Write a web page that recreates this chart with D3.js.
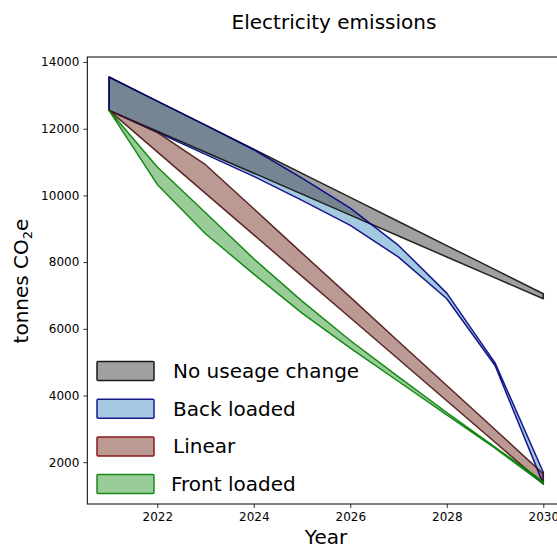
<!DOCTYPE html>
<html>
<head>
<meta charset="utf-8">
<script src="https://cdn.jsdelivr.net/npm/d3@7"></script>
<style>
body { margin: 0; background: #fff; }
svg { display: block; font-family: "DejaVu Sans", sans-serif; }
</style>
</head>
<body>
<div id="chart"></div>
<script>
var years = [2021, 2022, 2023, 2024, 2025, 2026, 2027, 2028, 2029, 2030];

// each scenario is a band between a high and a low line
var noChangeHigh = [13550, 12828, 12106, 11384, 10662, 9940, 9218, 8496, 7774, 7050];
var noChangeLow  = [12550, 11922, 11294, 10666, 10038, 9410, 8782, 8154, 7526, 6900];
var backHigh  = [13550, 12828, 12106, 11370, 10520, 9620, 8500, 7070, 4980, 1700];
var backLow   = [12550, 11890, 11230, 10570, 9850, 9100, 8150, 6900, 4900, 1350];
var linearHigh = [12550, 11890, 10920, 9600, 8270, 6950, 5620, 4300, 2980, 1650];
var linearLow  = [12550, 11306, 10062, 8818, 7574, 6330, 5086, 3842, 2598, 1350];
var frontHigh = [12550, 10850, 9480, 8100, 6830, 5650, 4560, 3490, 2450, 1420];
var frontLow  = [12550, 10330, 8850, 7640, 6470, 5420, 4420, 3420, 2420, 1350];

var yTicks = [2000, 4000, 6000, 8000, 10000, 12000, 14000];
var xTicks = [2022, 2024, 2026, 2028, 2030];

var scenarios = [
  {name: 'No useage change', hi: noChangeHigh, lo: noChangeLow, fill: '#484848', alpha: 0.52, edge: '#111111', legendEdge: '#1a1a1a', order: 1},
  {name: 'Back loaded', hi: backHigh, lo: backLow, fill: '#1f77b4', alpha: 0.4, edge: '#000080', legendEdge: '#1a1a8c', order: 0},
  {name: 'Linear', hi: linearHigh, lo: linearLow, fill: '#8c564b', alpha: 0.6, edge: '#4a1414', legendEdge: '#8b1a1a', order: 2},
  {name: 'Front loaded', hi: frontHigh, lo: frontLow, fill: '#008000', alpha: 0.4, edge: '#008000', legendEdge: '#1a8c1a', order: 3}
];

var W = 557, H = 548;
var plotLeft = 87.3, plotRight = 565, plotTop = 57, plotBottom = 504;

var svg = d3.select('#chart').append('svg').attr('width', W).attr('height', H);

var x = d3.scaleLinear().domain([2020.55, 2030.45]).range([plotLeft, plotRight]);
var y = d3.scaleLinear().domain([747, 14150]).range([plotBottom, plotTop]);

var area = d3.area()
  .x(function(d) { return x(d.year); })
  .y0(function(d) { return y(d.lo); })
  .y1(function(d) { return y(d.hi); });

function bandRows(s) {
  return years.map(function(yr, i) { return {year: yr, hi: s.hi[i], lo: s.lo[i]}; });
}

// fills first (grey sits over the blue band), outlines on top
var fillOrder = scenarios.slice().sort(function(a, b) { return a.order - b.order; });
var fills = svg.append('g');
fillOrder.forEach(function(s) {
  fills.append('path')
    .datum(bandRows(s))
    .attr('d', area)
    .attr('fill', s.fill)
    .attr('fill-opacity', s.alpha)
    .attr('stroke', 'none');
});
var edges = svg.append('g');
scenarios.forEach(function(s) {
  edges.append('path')
    .datum(bandRows(s))
    .attr('d', area)
    .attr('fill', 'none')
    .attr('stroke', s.edge)
    .attr('stroke-opacity', 0.9)
    .attr('stroke-width', 1.5)
    .attr('stroke-linejoin', 'round');
});

// axes
var xAxis = d3.axisBottom(x).tickValues(xTicks).tickFormat(d3.format('d')).tickSize(4).tickPadding(4);
var yAxis = d3.axisLeft(y).tickValues(yTicks).tickFormat(d3.format('d')).tickSize(4).tickPadding(4);

var gx = svg.append('g').attr('transform', 'translate(0,' + plotBottom + ')').call(xAxis);
var gy = svg.append('g').attr('transform', 'translate(' + plotLeft + ',0)').call(yAxis);
[gx, gy].forEach(function(g) {
  g.select('.domain').remove();
  g.selectAll('.tick line').attr('stroke', '#000').attr('stroke-width', 0.8);
  g.selectAll('.tick text').attr('fill', '#000').style('font-size', '12px').style('font-family', '"DejaVu Sans", sans-serif');
});

svg.append('rect')
  .attr('x', plotLeft).attr('y', plotTop)
  .attr('width', plotRight - plotLeft).attr('height', plotBottom - plotTop)
  .attr('fill', 'none').attr('stroke', '#000').attr('stroke-width', 1);

// titles
svg.append('text')
  .attr('x', 334).attr('y', 29)
  .attr('text-anchor', 'middle')
  .style('font-size', '20px')
  .text('Electricity emissions');

svg.append('text')
  .attr('x', 326).attr('y', 544)
  .attr('text-anchor', 'middle')
  .style('font-size', '20px')
  .text('Year');

var yl = svg.append('text')
  .attr('transform', 'translate(28,281) rotate(-90)')
  .attr('text-anchor', 'middle')
  .style('font-size', '20px');
yl.append('tspan').text('tonnes CO');
yl.append('tspan').attr('baseline-shift', '-30%').style('font-size', '13px').text('2');
yl.append('tspan').text('e');

// legend
var legend = svg.append('g').attr('transform', 'translate(97,371)');
scenarios.forEach(function(s, i) {
  var row = legend.append('g').attr('transform', 'translate(0,' + (i * 37.7) + ')');
  row.append('rect')
    .attr('x', 0).attr('y', -9.5)
    .attr('width', 57).attr('height', 19)
    .attr('rx', 1)
    .attr('fill', s.fill).attr('fill-opacity', s.alpha)
    .attr('stroke', s.legendEdge).attr('stroke-width', 1.5);
  row.append('text')
    .attr('x', i === 3 ? 74 : 76).attr('y', 7)
    .style('font-size', '20px')
    .text(s.name);
});
</script>
</body>
</html>
